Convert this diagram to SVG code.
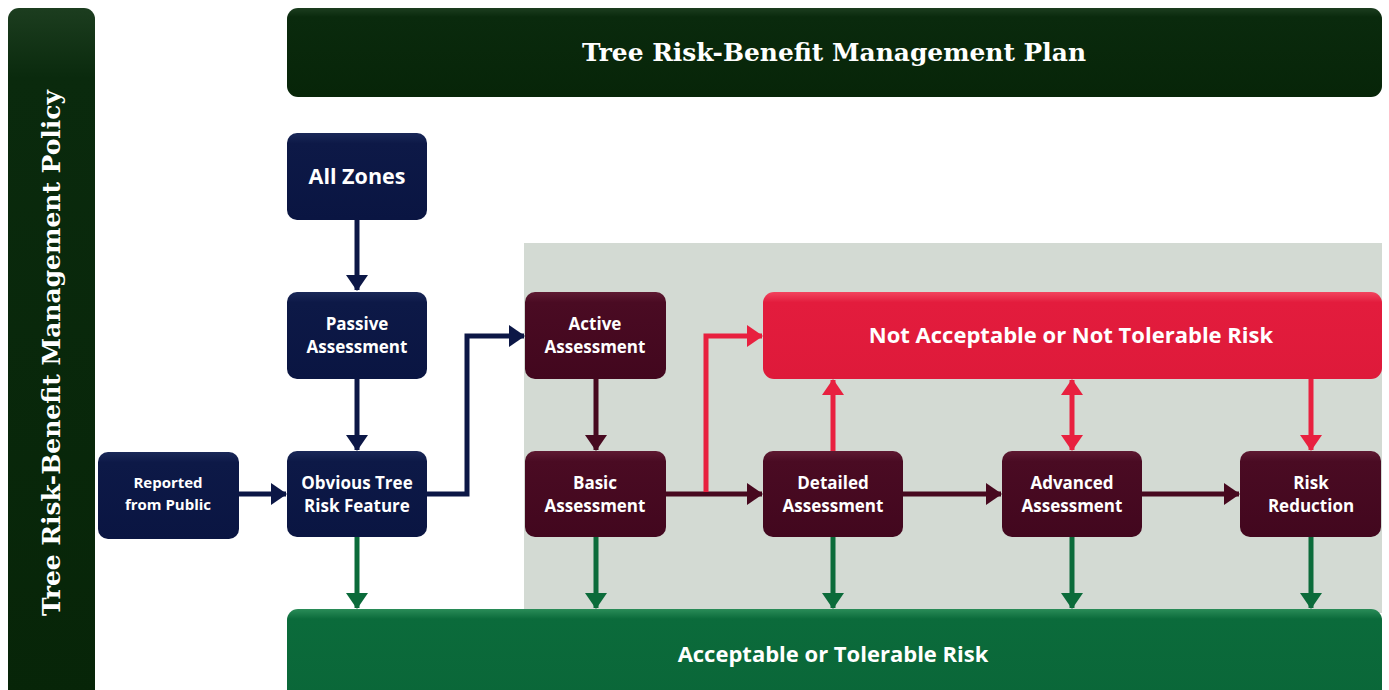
<svg xmlns="http://www.w3.org/2000/svg" width="1389" height="690" viewBox="0 0 1389 690">
  <style>
    .slab { font-family: "DejaVu Serif", "Liberation Serif", serif; font-weight: bold; fill: #ffffff; }
    .lbl { font-family: "Open Sans", "Noto Sans", "Liberation Sans", sans-serif; font-weight: bold; fill: #ffffff; text-anchor: middle; }
    .navy { fill: url(#gNavy); }
    .maroon { fill: url(#gMaroon); }
    .c-navy { stroke: #0c1746; stroke-width: 5; fill: none; }
    .c-maroon { stroke: #47091f; stroke-width: 5; fill: none; }
    .c-red { stroke: #e8203f; stroke-width: 5; fill: none; }
    .c-green { stroke: #0b6b3a; stroke-width: 5; fill: none; }
  </style>
  <defs>
    <linearGradient id="gNavy" x1="0" y1="0" x2="0" y2="1">
      <stop offset="0" stop-color="#1a2858"/>
      <stop offset="0.12" stop-color="#0d1947"/>
      <stop offset="1" stop-color="#0a1542"/>
    </linearGradient>
    <linearGradient id="gMaroon" x1="0" y1="0" x2="0" y2="1">
      <stop offset="0" stop-color="#5e1a32"/>
      <stop offset="0.12" stop-color="#4a0b23"/>
      <stop offset="1" stop-color="#42071e"/>
    </linearGradient>
    <linearGradient id="gRed" x1="0" y1="0" x2="0" y2="1">
      <stop offset="0" stop-color="#f2445e"/>
      <stop offset="0.12" stop-color="#e31c3d"/>
      <stop offset="1" stop-color="#de1a3a"/>
    </linearGradient>
    <linearGradient id="gGreen" x1="0" y1="0" x2="0" y2="1">
      <stop offset="0" stop-color="#2a8c58"/>
      <stop offset="0.1" stop-color="#0b6b3b"/>
      <stop offset="1" stop-color="#0a6638"/>
    </linearGradient>
    <linearGradient id="gDark" x1="0" y1="0" x2="0" y2="1">
      <stop offset="0" stop-color="#1c3d1f"/>
      <stop offset="0.1" stop-color="#0a2a0d"/>
      <stop offset="1" stop-color="#072508"/>
    </linearGradient>
    <marker id="aNavy" viewBox="0 0 16 22" refX="15" refY="11" markerUnits="userSpaceOnUse" markerWidth="16" markerHeight="22" orient="auto">
      <path d="M0,0 L16,11 L0,22 Z" fill="#0c1746"/>
    </marker>
    <marker id="aMaroon" viewBox="0 0 16 22" refX="15" refY="11" markerUnits="userSpaceOnUse" markerWidth="16" markerHeight="22" orient="auto">
      <path d="M0,0 L16,11 L0,22 Z" fill="#47091f"/>
    </marker>
    <marker id="aRed" viewBox="0 0 16 22" refX="15" refY="11" markerUnits="userSpaceOnUse" markerWidth="16" markerHeight="22" orient="auto-start-reverse">
      <path d="M0,0 L16,11 L0,22 Z" fill="#e8203f"/>
    </marker>
    <marker id="aGreen" viewBox="0 0 16 22" refX="15" refY="11" markerUnits="userSpaceOnUse" markerWidth="16" markerHeight="22" orient="auto">
      <path d="M0,0 L16,11 L0,22 Z" fill="#0b6b3a"/>
    </marker>
  </defs>

  <rect width="1389" height="690" fill="#ffffff"/>

  <!-- shaded assessment zone -->
  <rect x="524" y="243" width="858" height="370" fill="#d3dad3"/>

  <!-- policy sidebar -->
  <g id="policy">
    <rect x="8" y="8" width="87" height="700" rx="11" fill="url(#gDark)"/>
    <text class="slab" x="0" y="0" font-size="24" text-anchor="middle" transform="translate(60,353) rotate(-90)" textLength="526" lengthAdjust="spacingAndGlyphs">Tree Risk-Benefit Management Policy</text>
  </g>

  <!-- plan header -->
  <g id="plan">
    <rect x="287" y="8" width="1095" height="89" rx="11" fill="url(#gDark)"/>
    <text class="slab" x="834" y="61" font-size="24" text-anchor="middle" textLength="504" lengthAdjust="spacingAndGlyphs">Tree Risk-Benefit Management Plan</text>
  </g>

  <!-- connectors -->
  <g id="connectors">
    <path class="c-navy" d="M357,220 V290" marker-end="url(#aNavy)"/>
    <path class="c-navy" d="M357,379 V450" marker-end="url(#aNavy)"/>
    <path class="c-navy" d="M239,494 H286" marker-end="url(#aNavy)"/>
    <path class="c-navy" d="M427,494 H467 V336 H524" marker-end="url(#aNavy)"/>

    <path class="c-maroon" d="M596,379 V450" marker-end="url(#aMaroon)"/>
    <path class="c-maroon" d="M666,494 H762" marker-end="url(#aMaroon)"/>
    <path class="c-maroon" d="M903,494 H1001" marker-end="url(#aMaroon)"/>
    <path class="c-maroon" d="M1142,494 H1239" marker-end="url(#aMaroon)"/>

    <path class="c-red" d="M706,492 V336 H762" marker-end="url(#aRed)"/>
    <path class="c-red" d="M833,451 V380" marker-end="url(#aRed)"/>
    <path class="c-red" d="M1072,380 V450" marker-start="url(#aRed)" marker-end="url(#aRed)"/>
    <path class="c-red" d="M1311,379 V450" marker-end="url(#aRed)"/>

    <path class="c-green" d="M357,537 V608" marker-end="url(#aGreen)"/>
    <path class="c-green" d="M596,537 V608" marker-end="url(#aGreen)"/>
    <path class="c-green" d="M833,537 V608" marker-end="url(#aGreen)"/>
    <path class="c-green" d="M1072,537 V608" marker-end="url(#aGreen)"/>
    <path class="c-green" d="M1311,537 V608" marker-end="url(#aGreen)"/>
  </g>

  <!-- passive route -->
  <g id="all-zones">
    <rect class="navy" x="287" y="133" width="140" height="87" rx="10"/>
    <text class="lbl" x="357" y="184" font-size="21.5">All Zones</text>
  </g>
  <g id="passive">
    <rect class="navy" x="287" y="292" width="140" height="87" rx="10"/>
    <text class="lbl" x="357" y="330" font-size="17">Passive</text>
    <text class="lbl" x="357" y="353" font-size="17">Assessment</text>
  </g>
  <g id="reported">
    <rect class="navy" x="98" y="452" width="141" height="87" rx="10"/>
    <text class="lbl" x="168" y="488" font-size="15">Reported</text>
    <text class="lbl" x="168" y="510" font-size="15">from Public</text>
  </g>
  <g id="obvious">
    <rect class="navy" x="287" y="451" width="140" height="86" rx="10"/>
    <text class="lbl" x="357" y="489" font-size="17">Obvious Tree</text>
    <text class="lbl" x="357" y="512" font-size="17">Risk Feature</text>
  </g>

  <!-- active route -->
  <g id="active">
    <rect class="maroon" x="525" y="292" width="141" height="87" rx="10"/>
    <text class="lbl" x="595" y="330" font-size="17">Active</text>
    <text class="lbl" x="595" y="353" font-size="17">Assessment</text>
  </g>
  <g id="basic">
    <rect class="maroon" x="525" y="451" width="141" height="86" rx="10"/>
    <text class="lbl" x="595" y="489" font-size="17">Basic</text>
    <text class="lbl" x="595" y="512" font-size="17">Assessment</text>
  </g>
  <g id="detailed">
    <rect class="maroon" x="763" y="451" width="140" height="86" rx="10"/>
    <text class="lbl" x="833" y="489" font-size="17">Detailed</text>
    <text class="lbl" x="833" y="512" font-size="17">Assessment</text>
  </g>
  <g id="advanced">
    <rect class="maroon" x="1002" y="451" width="140" height="86" rx="10"/>
    <text class="lbl" x="1072" y="489" font-size="17">Advanced</text>
    <text class="lbl" x="1072" y="512" font-size="17">Assessment</text>
  </g>
  <g id="reduction">
    <rect class="maroon" x="1240" y="451" width="141" height="86" rx="10"/>
    <text class="lbl" x="1311" y="489" font-size="17">Risk</text>
    <text class="lbl" x="1311" y="512" font-size="17">Reduction</text>
  </g>

  <!-- outcomes -->
  <g id="not-acceptable">
    <rect x="763" y="292" width="619" height="87" rx="11" fill="url(#gRed)"/>
    <text class="lbl" x="1071" y="343" font-size="22">Not Acceptable or Not Tolerable Risk</text>
  </g>
  <g id="acceptable">
    <rect x="287" y="609" width="1095" height="100" rx="11" fill="url(#gGreen)"/>
    <text class="lbl" x="833" y="662" font-size="22">Acceptable or Tolerable Risk</text>
  </g>
</svg>
